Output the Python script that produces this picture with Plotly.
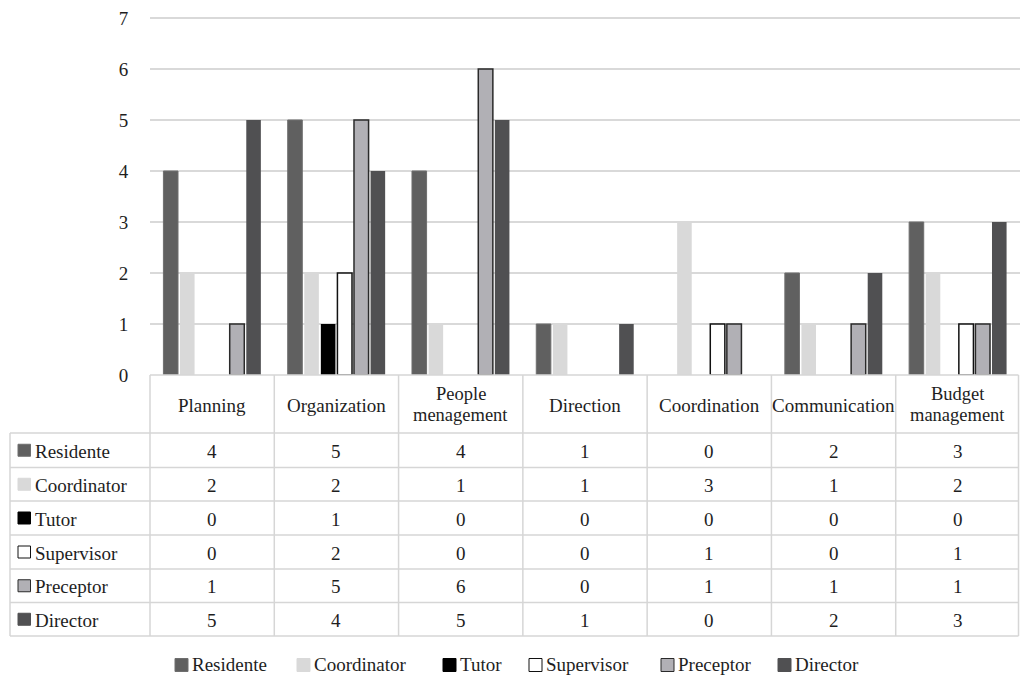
import plotly.graph_objects as go

# ---- data ----
categories = ["Planning", "Organization", "People management", "Direction",
              "Coordination", "Communication", "Budget management"]
header_labels = ["Planning", "Organization", "People<br>menagement", "Direction",
                 "Coordination", "Communication", "Budget<br>management"]
series_names = ["Residente", "Coordinator", "Tutor", "Supervisor", "Preceptor", "Director"]
residente = [4, 5, 4, 1, 0, 2, 3]
coordinator = [2, 2, 1, 1, 3, 1, 2]
tutor = [0, 1, 0, 0, 0, 0, 0]
supervisor = [0, 2, 0, 0, 1, 0, 1]
preceptor = [1, 5, 6, 0, 1, 1, 1]
director = [5, 4, 5, 1, 0, 2, 3]
series_values = [residente, coordinator, tutor, supervisor, preceptor, director]
y_ticks = [0, 1, 2, 3, 4, 5, 6, 7]

# ---- styles ----
fills = ["#606060", "#d9d9d9", "#000000", "#ffffff", "#b1b0b5", "#505052"]
edges = ["#6e6e6e", "#d9d9d9", "#000000", "#111111", "#2a2a2a", "#505052"]
edge_w = [1, 0, 0, 1.5, 1.5, 0]
FONT = "Liberation Serif"
FS = 19
TXT = "#1e1e1e"
W, H = 1020, 677


def fx(x):
    return x / W


def fy(y):
    return 1 - y / H


plot_left = 150
y0_px, y7_px = 375, 18

fig = go.Figure()
for name, vals, fc, ec, lw in zip(series_names, series_values, fills, edges, edge_w):
    fig.add_trace(go.Bar(
        name=name, x=categories, y=[v if v else None for v in vals],
        marker=dict(color=fc, line=dict(color=ec, width=lw)),
        showlegend=False,
    ))

fig.update_layout(
    width=W, height=H,
    margin=dict(l=0, r=0, t=0, b=0, autoexpand=False),
    paper_bgcolor="white", plot_bgcolor="white",
    barmode="group", bargap=0.2, bargroupgap=0.12,
    font=dict(family=FONT, size=FS, color=TXT),
    xaxis=dict(domain=[fx(plot_left), 1.0], range=[-0.5, len(categories) - 0.5],
               showticklabels=False, showgrid=False, zeroline=False, showline=False,
               fixedrange=True),
    yaxis=dict(domain=[fy(y0_px), fy(y7_px - 1)], range=[0, 7.02], tickvals=y_ticks,
               showgrid=True, gridcolor="#d9d9d9", gridwidth=1.5, zeroline=False,
               showline=False, ticks="outside", ticklen=17, tickcolor="rgba(0,0,0,0)",
               tickfont=dict(family=FONT, size=FS, color=TXT)),
)

shapes = []
annotations = []
line_style = dict(color="#d6d6d6", width=1.5)

n = len(categories)
cat_w = (W - plot_left) / n
col_x = [plot_left + i * cat_w for i in range(n + 1)]
col_x[-1] = 1018.5
row_y = [375, 433, 467.5, 501, 535, 569, 602.5, 636]
left_x = 10

for i, yy in enumerate(row_y):
    xs = plot_left if i == 0 else left_x
    shapes.append(dict(type="line", xref="paper", yref="paper",
                       x0=fx(xs), x1=fx(col_x[-1]), y0=fy(yy), y1=fy(yy), line=line_style))
for xx in col_x:
    shapes.append(dict(type="line", xref="paper", yref="paper",
                       x0=fx(xx), x1=fx(xx), y0=fy(row_y[0]), y1=fy(row_y[-1]), line=line_style))
shapes.append(dict(type="line", xref="paper", yref="paper",
                   x0=fx(left_x), x1=fx(left_x), y0=fy(row_y[1]), y1=fy(row_y[-1]), line=line_style))


def text(x, y, s, anchor="center", size=FS):
    annotations.append(dict(xref="paper", yref="paper", x=fx(x), y=fy(y), text=s,
                            showarrow=False, xanchor=anchor, yanchor="middle",
                            font=dict(family=FONT, size=size, color=TXT)))


# header row
for i, lab in enumerate(header_labels):
    cx = plot_left + (i + 0.5) * cat_w
    parts = lab.split("<br>")
    if len(parts) == 1:
        text(cx, 405.5, parts[0])
    else:
        text(cx, 393.5, parts[0], size=18.5)
        text(cx, 415, parts[1], size=18.5)

# data rows
for r, (name, vals) in enumerate(zip(series_names, series_values)):
    cy = (row_y[r + 1] + row_y[r + 2]) / 2
    shapes.append(dict(type="rect", xref="paper", yref="paper",
                       x0=fx(18), x1=fx(30.5), y0=fy(cy - 6), y1=fy(cy + 6),
                       fillcolor=fills[r],
                       line=dict(color=edges[r] if edge_w[r] else fills[r], width=1)))
    text(33, cy + 1, name, anchor="left")
    for i, v in enumerate(vals):
        text(plot_left + (i + 0.5) * cat_w, cy + 1, str(v))

# bottom legend
legend_x = [175, 297, 443, 529, 661, 778]
leg_y = 664
for name, lx, fc, ec, lw in zip(series_names, legend_x, fills, edges, edge_w):
    shapes.append(dict(type="rect", xref="paper", yref="paper",
                       x0=fx(lx), x1=fx(lx + 13), y0=fy(leg_y - 5.5), y1=fy(leg_y + 7.5),
                       fillcolor=fc, line=dict(color=ec if lw else fc, width=1)))
    text(lx + 15, leg_y, name, anchor="left")

fig.update_layout(shapes=shapes, annotations=annotations)
fig.write_html("out.html")
